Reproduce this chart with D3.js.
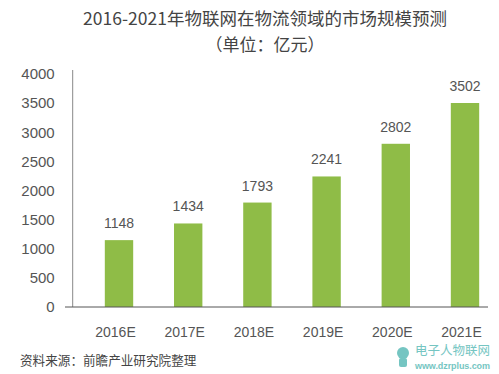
<!DOCTYPE html>
<html>
<head>
<meta charset="utf-8">
<script src="https://cdn.jsdelivr.net/npm/d3@7"></script>
<style>
  body { margin: 0; background: #fff; }
  svg { display: block; }
  .cjk { font-family: "Noto Sans CJK SC", "Noto Sans", sans-serif; }
  .num { font-family: "Liberation Sans", Arial, sans-serif; }
</style>
</head>
<body>
<svg id="chart"></svg>
<script>
// data
const years = ['2016E', '2017E', '2018E', '2019E', '2020E', '2021E'];
const values = [1148, 1434, 1793, 2241, 2802, 3502];
const yTicks = [0, 500, 1000, 1500, 2000, 2500, 3000, 3500, 4000];
const titleLines = ['2016-2021年物联网在物流领域的市场规模预测', '（单位：亿元）'];
const sourceText = '资料来源：前瞻产业研究院整理';

const [w, h] = [499, 374];
const svg = d3.select('#chart').attr('width', w).attr('height', h);

const x = d3.scaleBand().domain(years).range([84.4, 499.6]).paddingInner(0.59).paddingOuter(0.295);
const y = d3.scaleLinear().domain([0, 4000]).range([307, 74]);

//title
svg.append('text').attr('class', 'cjk').attr('x', 265).attr('y', 25)
  .attr('text-anchor', 'middle').attr('font-size', 17.5).attr('fill', '#444')
  .text(titleLines[0]);
svg.append('text').attr('class', 'cjk').attr('x', 265).attr('y', 51)
  .attr('text-anchor', 'middle').attr('font-size', 17).attr('fill', '#444')
  .text(titleLines[1]);

//bars
svg.selectAll('rect.bar').data(values).enter().append('rect')
  .attr('class', 'bar')
  .attr('x', (d, i) => x(years[i]))
  .attr('width', x.bandwidth())
  .attr('y', d => y(d))
  .attr('height', d => y(0) - y(d))
  .attr('fill', '#8fbc47');

//value labels
svg.selectAll('text.val').data(values).enter().append('text')
  .attr('class', 'val num')
  .attr('x', (d, i) => x(years[i]) + x.bandwidth() / 2)
  .attr('y', d => y(d) - 12)
  .attr('text-anchor', 'middle').attr('font-size', 14).attr('fill', '#555')
  .text(d => d);

//y axis
const yAxis = d3.axisLeft(y).tickValues(yTicks).tickFormat(d3.format('d')).tickSize(0).tickPadding(18);
const gy = svg.append('g').attr('transform', 'translate(72.7,0)').call(yAxis);
gy.select('.domain').remove();
gy.selectAll('text').attr('class', 'num').attr('font-size', 15).attr('fill', '#555');
svg.append('line').attr('x1', 72.7).attr('x2', 72.7).attr('y1', y(4000) - 4).attr('y2', y(0))
  .attr('stroke', '#888').attr('stroke-width', 1);

//x axis
const xAxis = d3.axisBottom(x).tickSize(0).tickPadding(20);
const gx = svg.append('g').attr('transform', `translate(-3.5,${y(0)})`).call(xAxis);
gx.select('.domain').remove();
gx.selectAll('text').attr('class', 'num').attr('font-size', 14).attr('fill', '#555');
svg.append('line').attr('x1', 65).attr('x2', 488).attr('y1', y(0)).attr('y2', y(0))
  .attr('stroke', '#555').attr('stroke-width', 1);

//source
svg.append('text').attr('class', 'cjk').attr('x', 20).attr('y', 365)
  .attr('font-size', 12.6).attr('fill', '#444').text(sourceText);

//watermark
const wm = svg.append('g').attr('fill', '#5dbcb8').attr('opacity', 0.85);
wm.append('circle').attr('cx', 403).attr('cy', 353).attr('r', 6);
wm.append('rect').attr('x', 399).attr('y', 358).attr('width', 8).attr('height', 9).attr('rx', 2);
wm.append('text').attr('class', 'cjk').attr('x', 415).attr('y', 355)
  .attr('font-size', 12.5).text('电子人物联网');
wm.append('text').attr('class', 'num').attr('x', 415).attr('y', 368.5)
  .attr('font-size', 9).attr('font-weight', 'bold').attr('textLength', 75).text('www.dzrplus.com');
</script>
</body>
</html>
